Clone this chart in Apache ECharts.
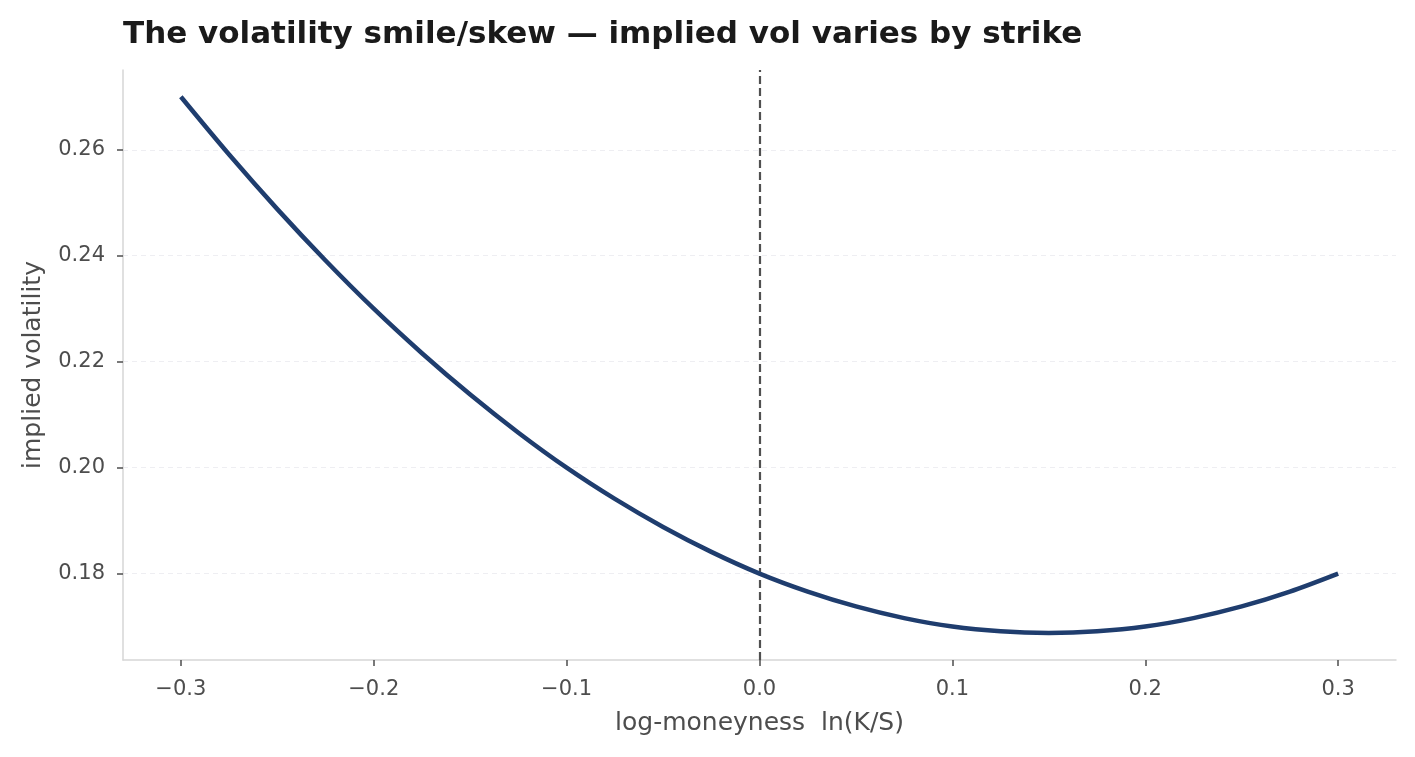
<!DOCTYPE html>
<html>
<head>
<meta charset="utf-8">
<script src="https://cdn.jsdelivr.net/npm/echarts@6/dist/echarts.min.js"></script>
<style>
  html, body { margin: 0; padding: 0; background: #fff; }
  #chart { width: 1415px; height: 757px; }
</style>
</head>
<body>
<div id="chart"></div>
<script>
// log-moneyness and implied vol
var moneyness = [-0.3, -0.275, -0.25, -0.225, -0.2, -0.175, -0.15, -0.125, -0.1, -0.075, -0.05, -0.025,
  0, 0.025, 0.05, 0.075, 0.1, 0.125, 0.15, 0.175, 0.2, 0.225, 0.25, 0.275, 0.3];
var impliedVol = [0.2700, 0.2591, 0.2488, 0.2391, 0.2300, 0.2216, 0.2138, 0.2066, 0.2000, 0.1941, 0.1888, 0.1841,
  0.1800, 0.1766, 0.1738, 0.1716, 0.1700, 0.1691, 0.1688, 0.1691, 0.1700, 0.1716, 0.1738, 0.1766, 0.1800];
var xTicks = [-0.3, -0.2, -0.1, 0, 0.1, 0.2, 0.3];
var yTicks = [0.18, 0.20, 0.22, 0.24, 0.26];
var atmLine = 0;

var chart = echarts.init(document.getElementById('chart'));

var points = [];
for (var i = 0; i < moneyness.length; i++) {
  points.push([moneyness[i], impliedVol[i]]);
}

var fontFam = 'DejaVu Sans';

chart.setOption({
  animation: false,
  title: {
    text: 'The volatility smile/skew \u2014 implied vol varies by strike',
    left: 118,
    top: 14,
    textStyle: { fontFamily: fontFam, fontWeight: 'bold', fontSize: 31, color: '#1a1a1a' }
  },
  grid: { left: 123, right: 19, top: 70, bottom: 97 },
  xAxis: {
    type: 'value',
    min: -0.33,
    max: 0.33,
    name: 'log-moneyness  ln(K/S)',
    nameLocation: 'middle',
    nameGap: 51,
    nameTextStyle: { fontFamily: fontFam, fontSize: 25, color: '#4d4d4d' },
    axisLine: { show: true, onZero: false, lineStyle: { color: '#d6d6d6', width: 1.5 } },
    axisTick: { show: true, customValues: xTicks, length: 6, lineStyle: { color: '#4d4d4d', width: 1.5 } },
    axisLabel: {
      customValues: xTicks,
      margin: 19,
      fontFamily: fontFam, fontSize: 21, color: '#4d4d4d',
      formatter: function (v) { return (v < 0 ? '\u2212' : '') + Math.abs(v).toFixed(1); }
    },
    splitLine: { show: false }
  },
  yAxis: {
    type: 'value',
    min: 0.16369,
    max: 0.27506,
    name: 'implied volatility',
    nameLocation: 'middle',
    nameGap: 77,
    nameTextStyle: { fontFamily: fontFam, fontSize: 25, color: '#4d4d4d' },
    axisLine: { show: true, onZero: false, lineStyle: { color: '#d6d6d6', width: 1.5 } },
    axisTick: { show: true, customValues: yTicks, length: 6, lineStyle: { color: '#4d4d4d', width: 1.5 } },
    axisLabel: {
      customValues: yTicks,
      margin: 18,
      padding: [6, 0, 0, 0],
      fontFamily: fontFam, fontSize: 21, color: '#4d4d4d',
      formatter: function (v) { return v.toFixed(2); }
    },
    splitLine: { show: false }
  },
  series: [
    {
      type: 'line',
      data: [],
      silent: true,
      z: 1,
      markLine: {
        silent: true,
        z: 0,
        symbol: 'none',
        label: { show: false },
        lineStyle: { color: '#eeeef2', width: 1, type: [5, 4] },
        data: yTicks.map(function (v) { return { yAxis: v }; })
      }
    },
    {
      type: 'line',
      data: points,
      smooth: 0.3,
      showSymbol: false,
      z: 3,
      lineStyle: { color: '#1f3d6e', width: 4.5 },
      markLine: {
        silent: true,
        z: 1,
        symbol: 'none',
        label: { show: false },
        lineStyle: { color: '#505050', width: 2.2, type: [8, 4] },
        data: [{ xAxis: atmLine }]
      }
    }
  ]
});
</script>
</body>
</html>
